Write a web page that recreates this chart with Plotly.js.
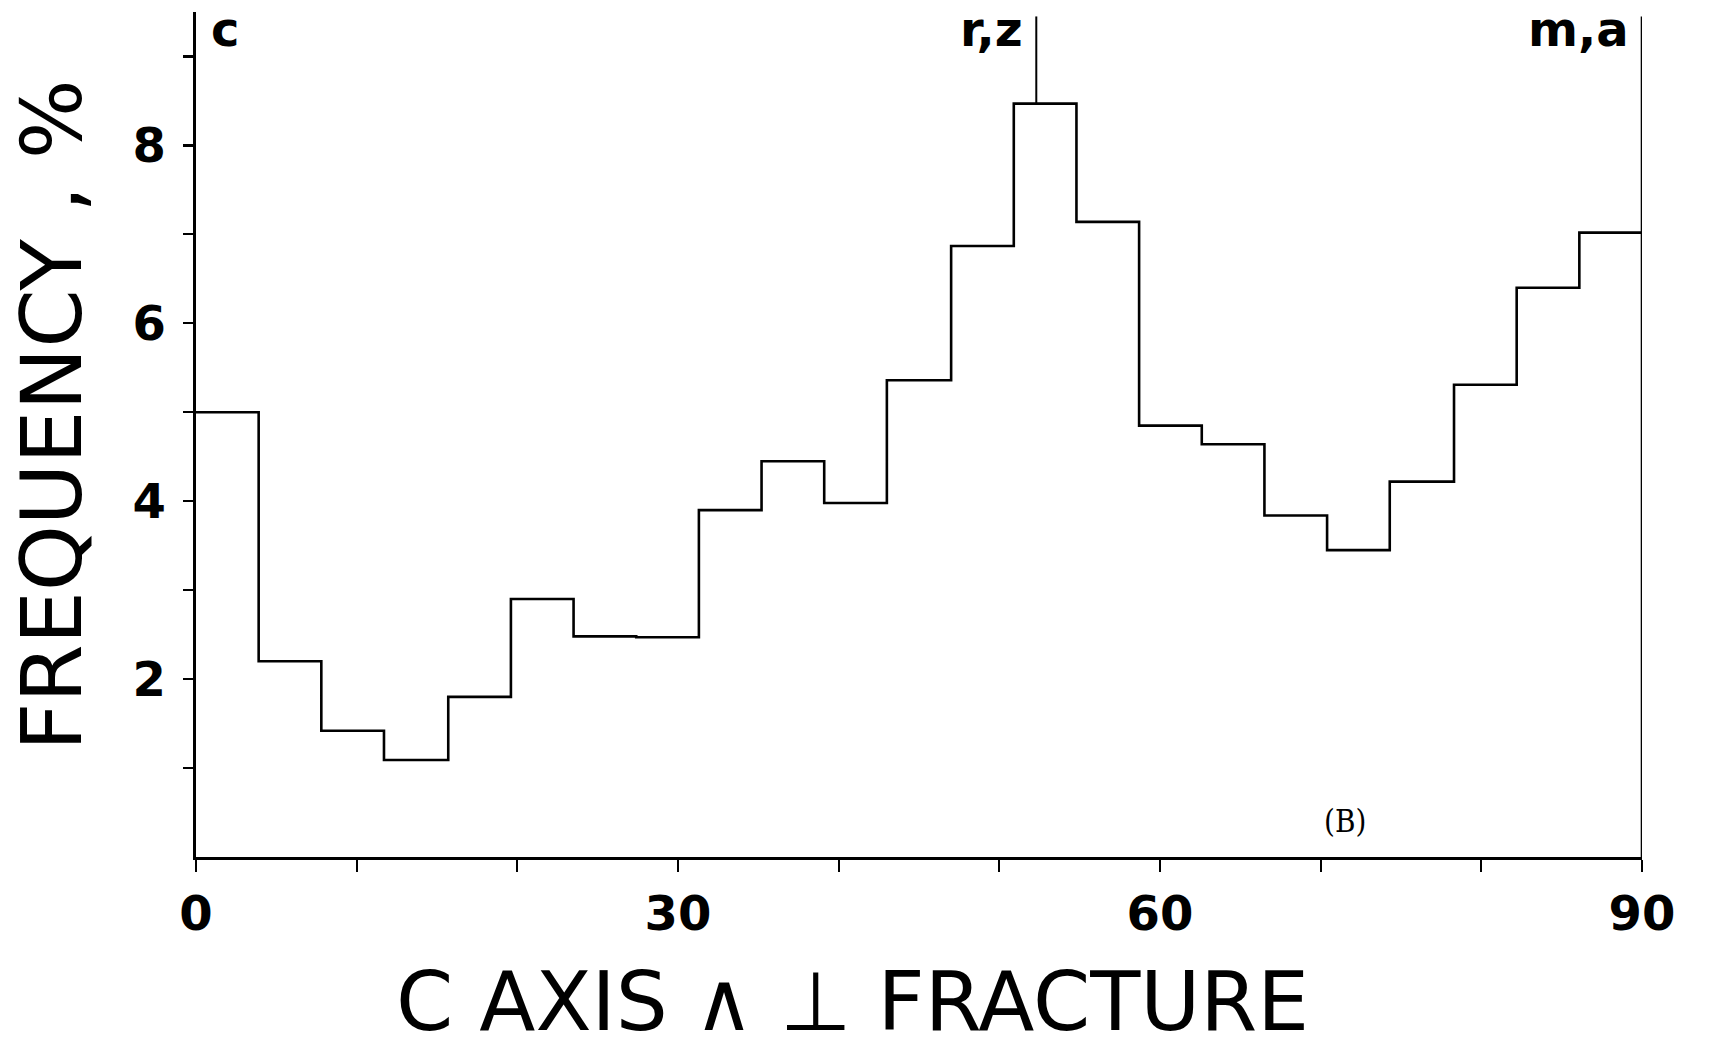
<!DOCTYPE html>
<html>
<head>
<meta charset="utf-8">
<script src="https://cdn.plot.ly/plotly-3.0.1.min.js"></script>
<style>html,body{margin:0;padding:0;background:#fff;}#chart{width:1711px;height:1051px;}</style>
</head>
<body>
<div id="chart"></div>
<script>
// Histogram bin edges (degrees) and frequencies (%)
const binEdges = [0, 3.9, 7.8, 11.7, 15.7, 19.6, 23.5, 27.4, 31.3, 35.2, 39.1, 43.0, 47.0, 50.9, 54.8, 58.7, 62.6, 66.5, 70.4, 74.3, 78.3, 82.2, 86.1, 90];
const freq = [5.0, 2.2, 1.42, 1.09, 1.8, 2.9, 2.48, 2.47, 3.9, 4.45, 3.98, 5.36, 6.87, 8.47, 7.14, 4.85, 4.64, 3.84, 3.45, 4.22, 5.31, 6.4, 7.02];

const xTickVals = [0, 10, 20, 30, 40, 50, 60, 70, 80, 90];
const xTickText = ['0', '', '', '30', '', '', '60', '', '', '90'];
const yTickVals = [1, 2, 3, 4, 5, 6, 7, 8, 9];
const yTickText = ['', '2', '', '4', '', '6', '', '8', ''];

// Crystallographic reference directions marked along the top
const refAngles = [0, 52.3, 90];
const refLabels = ['c', 'r,z', 'm,a'];
const refLineTop = 9.45;

const xTitle = 'C AXIS \u2227 \u22A5 FRACTURE';
const yTitle = 'FREQUENCY , %';
const panelLabel = '(B)';
const panelPos = [71.5, 0.4];

const stepX = binEdges.slice();
const stepY = freq.concat([freq[freq.length - 1]]);

function freqAt(a) {
  for (let i = 0; i < freq.length; i++) {
    if (a >= binEdges[i] && a < binEdges[i + 1]) return freq[i];
  }
  return 0;
}

const traces = [{
  type: 'scatter', mode: 'lines', x: stepX, y: stepY,
  line: {shape: 'hv', color: '#000', width: 2.6},
  hoverinfo: 'x+y', showlegend: false
}];

const shapes = [];
const annotations = [];
refAngles.forEach((a, i) => {
  if (i > 0) {
    const base = (a >= binEdges[binEdges.length - 1]) ? 0 : freqAt(a);
    shapes.push({type: 'line', xref: 'x', yref: 'y', x0: a, x1: a, y0: base, y1: refLineTop,
      line: {color: '#000', width: i === refAngles.length - 1 ? 2.6 : 2}});
  }
  annotations.push({
    x: a, xref: 'x', y: 1.0142, yref: 'paper', text: refLabels[i], showarrow: false,
    xanchor: i === 0 ? 'left' : 'right', yanchor: 'top', xshift: i === 0 ? 14 : -12,
    borderpad: 0,
    font: {family: 'DejaVu Sans', size: 48, weight: 'bold', color: '#000'}
  });
});

annotations.push({
  x: panelPos[0], y: panelPos[1], xref: 'x', yref: 'y', text: panelLabel, showarrow: false,
  font: {family: 'DejaVu Serif Condensed, DejaVu Serif', size: 31, color: '#000'}
});
annotations.push({
  x: 0.454, y: -0.171, xref: 'paper', yref: 'paper', text: xTitle, showarrow: false,
  xanchor: 'center', yanchor: 'middle',
  font: {family: 'DejaVu Sans', size: 82, color: '#000'}
});
annotations.push({
  x: -0.0996, y: 0.523, xref: 'paper', yref: 'paper', text: yTitle, showarrow: false,
  textangle: -90, xanchor: 'center', yanchor: 'middle',
  font: {family: 'DejaVu Sans', size: 84, color: '#000'}
});

const tickFont = {family: 'DejaVu Sans', size: 48, weight: 'bold', color: '#000'};
const layout = {
  width: 1711, height: 1051,
  margin: {l: 196, r: 69, t: 12, b: 194},
  paper_bgcolor: '#fff', plot_bgcolor: '#fff',
  showlegend: false,
  xaxis: {
    range: [0, 90], showgrid: false, zeroline: false, showline: true,
    linecolor: '#000', linewidth: 2.6, ticks: 'outside', ticklen: 12, tickwidth: 2.2,
    tickcolor: '#000', tickmode: 'array', tickvals: xTickVals, ticktext: xTickText,
    tickfont: tickFont, ticklabelstandoff: 1
  },
  yaxis: {
    range: [0, 9.5], showgrid: false, zeroline: false, showline: true,
    linecolor: '#000', linewidth: 2.6, ticks: 'outside', ticklen: 10, tickwidth: 2.2,
    tickcolor: '#000', tickmode: 'array', tickvals: yTickVals, ticktext: yTickText,
    tickfont: tickFont, ticklabelstandoff: 8
  },
  shapes: shapes,
  annotations: annotations
};

Plotly.newPlot('chart', traces, layout, {displayModeBar: false, staticPlot: true});
</script>
</body>
</html>
